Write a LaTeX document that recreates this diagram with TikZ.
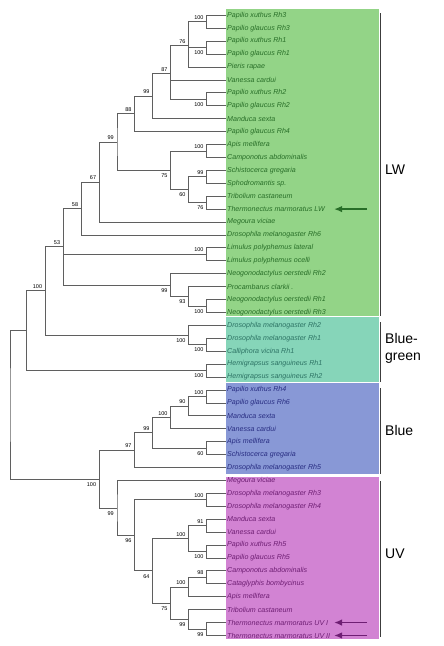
\documentclass[tikz,border=0pt]{standalone}
\usepackage{fontspec}
\setmainfont{Liberation Sans}
\usepackage{xcolor}
\usetikzlibrary{arrows.meta,positioning,calc}
\definecolor{lwfill}{RGB}{147,212,135}
\definecolor{bgfill}{RGB}{134,213,185}
\definecolor{bluefill}{RGB}{136,152,214}
\definecolor{uvfill}{RGB}{210,131,211}
\definecolor{lwtext}{RGB}{40,110,40}
\definecolor{bgtext}{RGB}{45,115,100}
\definecolor{bluetext}{RGB}{40,45,130}
\definecolor{uvtext}{RGB}{110,30,115}
\definecolor{branchgray}{RGB}{95,95,95}
\definecolor{edgegray}{RGB}{60,60,60}
\tikzset{
  leaf/.style = {anchor = west, inner sep = 1pt, font = \fontsize{7.1}{8}\selectfont\itshape},
  boot/.style = {anchor = east, inner sep = 0.5pt, xshift = -2.5pt, font = \fontsize{5.5}{6}\selectfont},
  bup/.style = {boot, yshift = 4.3pt},
  bdn/.style = {boot, yshift = -5.3pt},
  branch/.style = {draw = branchgray, line width = 0.75pt},
  grp/.style = {anchor = west, align = left, inner sep = 0pt, font = \fontsize{14}{17}\selectfont},
  ptr/.style = {-{Latex[length=8pt,width=6.5pt]}, line width = 1.7pt},
  shade/.style = {draw = edgegray, line width = 1.2pt}
}
\begin{document}
\begin{tikzpicture}[x = 1pt, y = -1pt]
    \useasboundingbox (0,0) rectangle (444,646);
    % colour groups
    \fill[lwfill] (226,9) rectangle (379,315.7);
    \fill[bgfill] (226,317.3) rectangle (379,381.7);
    \fill[bluefill] (226,383.3) rectangle (379,474);
    \fill[uvfill] (226,476.7) rectangle (379,639.3);
    \draw[shade] (380.2,13) -- (380.2,315.7);
    \draw[shade] (380.2,322) -- (380.2,381.7);
    \draw[shade] (380.2,388) -- (380.2,474);
    \draw[shade] (380.2,481) -- (380.2,637);
    % leaves
    \node[leaf, lwtext] (l1) at (226,15.30) {Papilio xuthus Rh3};
    \node[leaf, lwtext] (l2) at (226,28.22) {Papilio glaucus Rh3};
    \node[leaf, lwtext] (l3) at (226,41.14) {Papilio xuthus Rh1};
    \node[leaf, lwtext] (l4) at (226,54.06) {Papilio glaucus Rh1};
    \node[leaf, lwtext] (l5) at (226,66.98) {Pieris rapae};
    \node[leaf, lwtext] (l6) at (226,79.90) {Vanessa cardui};
    \node[leaf, lwtext] (l7) at (226,92.82) {Papilio xuthus Rh2};
    \node[leaf, lwtext] (l8) at (226,105.74) {Papilio glaucus Rh2};
    \node[leaf, lwtext] (l9) at (226,118.66) {Manduca sexta};
    \node[leaf, lwtext] (l10) at (226,131.58) {Papilio glaucus Rh4};
    \node[leaf, lwtext] (l11) at (226,144.50) {Apis mellifera};
    \node[leaf, lwtext] (l12) at (226,157.42) {Camponotus abdominalis};
    \node[leaf, lwtext] (l13) at (226,170.34) {Schistocerca gregaria};
    \node[leaf, lwtext] (l14) at (226,183.26) {Sphodromantis sp.};
    \node[leaf, lwtext] (l15) at (226,196.18) {Tribolium castaneum};
    \node[leaf, lwtext] (l16) at (226,209.10) {Thermonectus marmoratus LW};
    \node[leaf, lwtext] (l17) at (226,222.02) {Megoura viciae};
    \node[leaf, lwtext] (l18) at (226,234.94) {Drosophila melanogaster Rh6};
    \node[leaf, lwtext] (l19) at (226,247.86) {Limulus polyphemus lateral};
    \node[leaf, lwtext] (l20) at (226,260.78) {Limulus polyphemus ocelli};
    \node[leaf, lwtext] (l21) at (226,273.70) {Neogonodactylus oerstedii Rh2};
    \node[leaf, lwtext] (l22) at (226,286.62) {Procambarus clarkii .};
    \node[leaf, lwtext] (l23) at (226,299.54) {Neogonodactylus oerstedii Rh1};
    \node[leaf, lwtext] (l24) at (226,312.46) {Neogonodactylus oerstedii Rh3};
    \node[leaf, bgtext] (l25) at (226,325.38) {Drosophila melanogaster Rh2};
    \node[leaf, bgtext] (l26) at (226,338.30) {Drosophila melanogaster Rh1};
    \node[leaf, bgtext] (l27) at (226,351.22) {Calliphora vicina Rh1};
    \node[leaf, bgtext] (l28) at (226,364.14) {Hemigrapsus sanguineus Rh1};
    \node[leaf, bgtext] (l29) at (226,377.06) {Hemigrapsus sanguineus Rh2};
    \node[leaf, bluetext] (l30) at (226,389.98) {Papilio xuthus Rh4};
    \node[leaf, bluetext] (l31) at (226,402.90) {Papilio glaucus Rh6};
    \node[leaf, bluetext] (l32) at (226,415.82) {Manduca sexta};
    \node[leaf, bluetext] (l33) at (226,428.74) {Vanessa cardui};
    \node[leaf, bluetext] (l34) at (226,441.66) {Apis mellifera};
    \node[leaf, bluetext] (l35) at (226,454.58) {Schistocerca gregaria};
    \node[leaf, bluetext] (l36) at (226,467.50) {Drosophila melanogaster Rh5};
    \node[leaf, uvtext] (l37) at (226,480.42) {Megoura viciae};
    \node[leaf, uvtext] (l38) at (226,493.34) {Drosophila melanogaster Rh3};
    \node[leaf, uvtext] (l39) at (226,506.26) {Drosophila melanogaster Rh4};
    \node[leaf, uvtext] (l40) at (226,519.18) {Manduca sexta};
    \node[leaf, uvtext] (l41) at (226,532.10) {Vanessa cardui};
    \node[leaf, uvtext] (l42) at (226,545.02) {Papilio xuthus Rh5};
    \node[leaf, uvtext] (l43) at (226,557.94) {Papilio glaucus Rh5};
    \node[leaf, uvtext] (l44) at (226,570.86) {Camponotus abdominalis};
    \node[leaf, uvtext] (l45) at (226,583.78) {Cataglyphis bombycinus};
    \node[leaf, uvtext] (l46) at (226,596.70) {Apis mellifera};
    \node[leaf, uvtext] (l47) at (226,609.62) {Tribolium castaneum};
    \node[leaf, uvtext] (l48) at (226,622.54) {Thermonectus marmoratus UV I};
    \node[leaf, uvtext] (l49) at (226,635.46) {Thermonectus marmoratus UV II};
    % internal nodes
    \coordinate (nA) at (206.7,21.76);
    \coordinate (nB) at (206.7,47.60);
    \coordinate (nC) at (188.7,45.45);
    \coordinate (nE) at (206.7,99.28);
    \coordinate (nD) at (170.7,73.5);
    \coordinate (nF) at (152.7,96.08);
    \coordinate (nG) at (134.7,113.83);
    \coordinate (nJ) at (206.7,150.96);
    \coordinate (nL) at (206.7,176.80);
    \coordinate (nM) at (206.7,202.64);
    \coordinate (nK) at (188.7,189.72);
    \coordinate (nI) at (170.7,170.34);
    \coordinate (nH) at (117,142.08);
    \coordinate (nN) at (99.3,182.05);
    \coordinate (nO) at (81.3,208.5);
    \coordinate (nQ) at (206.7,254.32);
    \coordinate (nT) at (206.7,306.0);
    \coordinate (nS) at (188.7,296.31);
    \coordinate (nR) at (170.7,285.0);
    \coordinate (nP) at (63.3,246.5);
    \coordinate (nX) at (206.7,344.76);
    \coordinate (nBG) at (188.7,335.07);
    \coordinate (nW) at (206.7,370.6);
    \coordinate (nU) at (45.3,290.8);
    \coordinate (nV) at (26.7,330.7);
    \coordinate (nY) at (206.7,396.44);
    \coordinate (nZ) at (188.7,406.13);
    \coordinate (nAA) at (170.7,417.43);
    \coordinate (nAC) at (206.7,448.12);
    \coordinate (nAB) at (152.7,432.78);
    \coordinate (nAD) at (134.7,450.14);
    \coordinate (nAH) at (206.7,499.8);
    \coordinate (nAL) at (206.7,525.64);
    \coordinate (nAM) at (206.7,551.48);
    \coordinate (nAJ) at (188.7,538.56);
    \coordinate (nAP) at (206.7,577.32);
    \coordinate (nAN) at (188.7,587.01);
    \coordinate (nAQ) at (206.7,629.0);
    \coordinate (nAO) at (188.7,619.31);
    \coordinate (nAK) at (170.7,603.16);
    \coordinate (nAI) at (152.7,570.86);
    \coordinate (nAG) at (134.7,535.33);
    \coordinate (nAF) at (117,507.88);
    \coordinate (nAE) at (99.3,479.01);
    \coordinate (nRoot) at (10,404.86);
    % branches
    \draw[branch] (l1.west) -| (nA) |- (l2.west);
    \draw[branch] (l3.west) -| (nB) |- (l4.west);
    \draw[branch] (nA) -| (nC) |- (l5.west) (nC) |- (nB);
    \draw[branch] (l7.west) -| (nE) |- (l8.west);
    \draw[branch] (nC) -| (nD) |- (nE) (nD) |- (l6.west);
    \draw[branch] (nD) -| (nF) |- (l9.west);
    \draw[branch] (nF) -| (nG) |- (l10.west);
    \draw[branch] (l11.west) -| (nJ) |- (l12.west);
    \draw[branch] (l13.west) -| (nL) |- (l14.west);
    \draw[branch] (l15.west) -| (nM) |- (l16.west);
    \draw[branch] (nL) -| (nK) |- (nM);
    \draw[branch] (nJ) -| (nI) |- (nK);
    \draw[branch] (nG) -| (nH) |- (nI);
    \draw[branch] (nH) -| (nN) |- (l17.west);
    \draw[branch] (nN) -| (nO) |- (l18.west);
    \draw[branch] (l19.west) -| (nQ) |- (l20.west);
    \draw[branch] (l23.west) -| (nT) |- (l24.west);
    \draw[branch] (l22.west) -| (nS) |- (nT);
    \draw[branch] (l21.west) -| (nR) |- (nS);
    \draw[branch] (nO) -| (nP) |- (nR) (nP) |- (nQ);
    \draw[branch] (l26.west) -| (nX) |- (l27.west);
    \draw[branch] (l25.west) -| (nBG) |- (nX);
    \draw[branch] (l28.west) -| (nW) |- (l29.west);
    \draw[branch] (nP) -| (nU) |- (nBG);
    \draw[branch] (nU) -| (nV) |- (nW);
    \draw[branch] (l30.west) -| (nY) |- (l31.west);
    \draw[branch] (nY) -| (nZ) |- (l32.west);
    \draw[branch] (nZ) -| (nAA) |- (l33.west);
    \draw[branch] (l34.west) -| (nAC) |- (l35.west);
    \draw[branch] (nAA) -| (nAB) |- (nAC);
    \draw[branch] (nAB) -| (nAD) |- (l36.west);
    \draw[branch] (l38.west) -| (nAH) |- (l39.west);
    \draw[branch] (l40.west) -| (nAL) |- (l41.west);
    \draw[branch] (l42.west) -| (nAM) |- (l43.west);
    \draw[branch] (nAL) -| (nAJ) |- (nAM);
    \draw[branch] (l44.west) -| (nAP) |- (l45.west);
    \draw[branch] (nAP) -| (nAN) |- (l46.west);
    \draw[branch] (l48.west) -| (nAQ) |- (l49.west);
    \draw[branch] (l47.west) -| (nAO) |- (nAQ);
    \draw[branch] (nAN) -| (nAK) |- (nAO);
    \draw[branch] (nAJ) -| (nAI) |- (nAK);
    \draw[branch] (nAH) -| (nAG) |- (nAI);
    \draw[branch] (l37.west) -| (nAF) |- (nAG);
    \draw[branch] (nAD) -| (nAE) |- (nAF);
    \draw[branch] (nV) -| (nRoot) |- (nAE);
    % bootstrap values
    \node[bup] (bA) at (nA) {100};
    \node[bdn] (bB) at (nB) {100};
    \node[bup] (bC) at (nC) {76};
    \node[bdn] (bE) at (nE) {100};
    \node[bup] (bD) at (nD) {87};
    \node[bup] (bF) at (nF) {99};
    \node[bup] (bG) at (nG) {88};
    \node[bup] (bJ) at (nJ) {100};
    \node[bup] (bL) at (nL) {99};
    \node[bdn] (bM) at (nM) {76};
    \node[bdn] (bK) at (nK) {60};
    \node[bdn] (bI) at (nI) {75};
    \node[bup] (bH) at (nH) {99};
    \node[bup] (bN) at (nN) {67};
    \node[bup] (bO) at (nO) {58};
    \node[bup] (bQ) at (nQ) {100};
    \node[bdn] (bT) at (nT) {100};
    \node[bdn] (bS) at (nS) {93};
    \node[bdn] (bR) at (nR) {99};
    \node[bup] (bP) at (nP) {53};
    \node[bdn] (bX) at (nX) {100};
    \node[bdn] (bBG) at (nBG) {100};
    \node[bdn] (bW) at (nW) {100};
    \node[bup] (bU) at (nU) {100};
    \node[bup] (bY) at (nY) {100};
    \node[bup] (bZ) at (nZ) {90};
    \node[bup] (bAA) at (nAA) {100};
    \node[bdn] (bAC) at (nAC) {60};
    \node[bup] (bAB) at (nAB) {99};
    \node[bup] (bAD) at (nAD) {97};
    \node[bup] (bAH) at (nAH) {100};
    \node[bup] (bAL) at (nAL) {91};
    \node[bdn] (bAM) at (nAM) {100};
    \node[bup] (bAJ) at (nAJ) {100};
    \node[bup] (bAP) at (nAP) {98};
    \node[bup] (bAN) at (nAN) {100};
    \node[bdn] (bAQ) at (nAQ) {99};
    \node[bdn] (bAO) at (nAO) {99};
    \node[bdn] (bAK) at (nAK) {75};
    \node[bdn] (bAI) at (nAI) {64};
    \node[bdn] (bAG) at (nAG) {96};
    \node[bdn] (bAF) at (nAF) {99};
    \node[bdn] (bAE) at (nAE) {100};
    % group names
    \node[grp] (gLW) at (385,169.5) {LW};
    \node[grp] (gBG) at (385,348.5) {Blue-\\green};
    \node[grp] (gBlue) at (385,430.5) {Blue};
    \node[grp] (gUV) at (385,554) {UV};
    % pointers
    \coordinate (pLW) at (367,209.10);
    \coordinate (pUV1) at (367,622.54);
    \coordinate (pUV2) at (367,635.46);
    \coordinate (qLW) at (334,209.10);
    \coordinate (qUV1) at (334,622.54);
    \coordinate (qUV2) at (334,635.46);
    \draw[ptr, lwtext] (pLW) -- (qLW);
    \draw[ptr, uvtext] (pUV1) -- (qUV1);
    \draw[ptr, uvtext] (pUV2) -- (qUV2);
\end{tikzpicture}
\end{document}
